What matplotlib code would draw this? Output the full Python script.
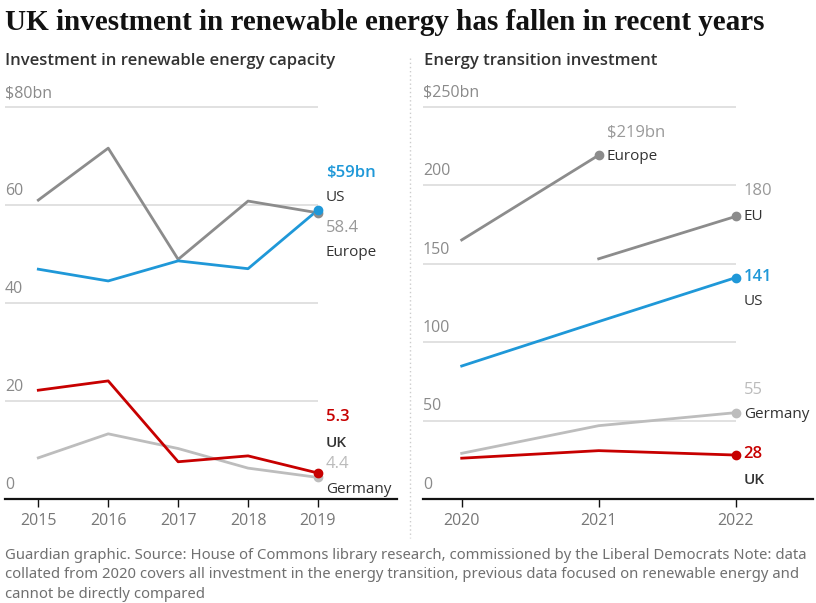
import matplotlib
matplotlib.use("Agg")
import matplotlib.pyplot as plt
from matplotlib.transforms import offset_copy

# ---------------- data ----------------
years_left = [2015, 2016, 2017, 2018, 2019]
us_left = [46.9, 44.5, 48.6, 47.0, 59.0]
europe_left = [61.0, 71.6, 48.9, 60.8, 58.4]
uk_left = [22.2, 24.1, 7.6, 8.8, 5.3]
germany_left = [8.4, 13.3, 10.3, 6.3, 4.4]
yticks_left = [0, 20, 40, 60, 80]
yticklabels_left = ["0", "20", "40", "60", "$80bn"]

years_right = [2020, 2021, 2022]
europe_right_years = [2020, 2021]
europe_right = [165, 219]
eu_right_years = [2021, 2022]
eu_right = [153, 180]
us_right = [84.7, 113.0, 141]
germany_right = [29.1, 46.7, 55]
uk_right = [26.0, 30.8, 28]
yticks_right = [0, 50, 100, 150, 200, 250]
yticklabels_right = ["0", "50", "100", "150", "200", "$250bn"]

title = "UK investment in renewable energy has fallen in recent years"
sub_left = "Investment in renewable energy capacity"
sub_right = "Energy transition investment"
footer = ("Guardian graphic. Source: House of Commons library research, commissioned by the Liberal Democrats Note: data\n"
          "collated from 2020 covers all investment in the energy transition, previous data focused on renewable energy and\n"
          "cannot be directly compared")

# ---------------- style ----------------
BLUE = "#1f98d8"
RED = "#c70000"
DGRAY = "#8c8c8c"
LGRAY = "#bdbdbd"
GRID = "#dcdcdc"
TICK = "#8a8a8a"
DARK = "#333333"
SANS = ["Open Sans", "DejaVu Sans"]

W, H = 816, 603
fig = plt.figure(figsize=(W / 100, H / 100), dpi=100)
fig.patch.set_facecolor("white")


def px_axes(x0, x1, ytop, ybot):
    return fig.add_axes([x0 / W, (H - ybot) / H, (x1 - x0) / W, (ybot - ytop) / H])


def setup(ax, xlim, ylim, years, yticks, ylabels, last_year):
    ax.set_xlim(*xlim)
    ax.set_ylim(*ylim)
    for s in ["left", "right", "top"]:
        ax.spines[s].set_visible(False)
    ax.spines["bottom"].set_color("#121212")
    ax.spines["bottom"].set_linewidth(1.6)
    ax.set_yticks([])
    ax.set_xticks(years)
    ax.set_xticklabels([str(y) for y in years], fontsize=11.5, color="#777777", family=SANS)
    ax.tick_params(axis="x", length=6, width=1, color="#121212", pad=4)
    for v, lab in zip(yticks, ylabels):
        if v > 0:
            ax.hlines(v, xlim[0], last_year, color=GRID, lw=1.2, zorder=1)
        tr = offset_copy(ax.transData, fig=fig, x=0, y=6, units="dots")
        ax.text(xlim[0], v, lab, transform=tr, ha="left", va="bottom",
                fontsize=11.5, color=TICK, family=SANS)
    ax.patch.set_alpha(0)


def label(ax, x, y, s, color, dy, bold=False, dx=8, size=11):
    tr = offset_copy(ax.transData, fig=fig, x=dx, y=dy, units="dots")
    ax.text(x, y, s, transform=tr, ha="left", va="center", fontsize=size,
            color=color, family=SANS, fontweight="semibold" if bold else "normal", clip_on=False)


NUM = 12

# ---------------- left chart ----------------
axL = px_axes(5, 397, 95, 499)
xlimL = (2015 - 33.3 / 69.9, 2019 + 79 / 69.9)
setup(axL, xlimL, (0, (499 - 95) / 4.9), years_left, yticks_left, yticklabels_left, 2019)
lw = 2.0
ms = 6
axL.plot(years_left, europe_left, color=DGRAY, lw=lw, zorder=3)
axL.plot(years_left, germany_left, color=LGRAY, lw=lw, zorder=3)
axL.plot(years_left, uk_left, color=RED, lw=lw, zorder=4)
axL.plot(years_left, us_left, color=BLUE, lw=lw, zorder=4)
axL.plot([2019], [europe_left[-1]], "o", color=DGRAY, ms=ms, zorder=5)
axL.plot([2019], [us_left[-1]], "o", color=BLUE, ms=ms, zorder=6)
axL.plot([2019], [germany_left[-1]], "o", color=LGRAY, ms=ms, zorder=5)
axL.plot([2019], [uk_left[-1]], "o", color=RED, ms=ms, zorder=6)

label(axL, 2019, us_left[-1], "$59bn", BLUE, 37, bold=True, size=NUM)
label(axL, 2019, us_left[-1], "US", DARK, 12)
label(axL, 2019, europe_left[-1], "58.4", "#999999", -15, size=NUM)
label(axL, 2019, europe_left[-1], "Europe", DARK, -40)
label(axL, 2019, uk_left[-1], "5.3", RED, 56, bold=True, size=NUM)
label(axL, 2019, uk_left[-1], "UK", DARK, 30, bold=True)
label(axL, 2019, germany_left[-1], "4.4", "#bbbbbb", 13, size=NUM)
label(axL, 2019, germany_left[-1], "Germany", DARK, -12)

# ---------------- right chart ----------------
axR = px_axes(423, 813, 95, 499)
xlimR = (2020 - 38.7 / 137, 2022 + 77.3 / 137)
setup(axR, xlimR, (0, (499 - 95) / 1.57), years_right, yticks_right, yticklabels_right, 2022)
axR.plot(europe_right_years, europe_right, color=DGRAY, lw=lw, zorder=3)
axR.plot(eu_right_years, eu_right, color=DGRAY, lw=lw, zorder=3)
axR.plot(years_right, germany_right, color=LGRAY, lw=lw, zorder=3)
axR.plot(years_right, uk_right, color=RED, lw=lw, zorder=4)
axR.plot(years_right, us_right, color=BLUE, lw=lw, zorder=4)
axR.plot([2021], [europe_right[-1]], "o", color=DGRAY, ms=ms, zorder=5)
axR.plot([2022], [eu_right[-1]], "o", color=DGRAY, ms=ms, zorder=5)
axR.plot([2022], [us_right[-1]], "o", color=BLUE, ms=ms, zorder=5)
axR.plot([2022], [germany_right[-1]], "o", color=LGRAY, ms=ms, zorder=5)
axR.plot([2022], [uk_right[-1]], "o", color=RED, ms=ms, zorder=5)

label(axR, 2021, europe_right[-1], "$219bn", "#999999", 23, size=NUM)
label(axR, 2021, europe_right[-1], "Europe", DARK, -1)
label(axR, 2022, eu_right[-1], "180", "#999999", 25, size=NUM)
label(axR, 2022, eu_right[-1], "EU", DARK, 0)
label(axR, 2022, us_right[-1], "141", BLUE, 1, bold=True, size=NUM)
label(axR, 2022, us_right[-1], "US", DARK, -24)
label(axR, 2022, germany_right[-1], "55", "#bbbbbb", 23, size=NUM)
label(axR, 2022, germany_right[-1], "Germany", DARK, -2)
label(axR, 2022, uk_right[-1], "28", RED, 1, bold=True, size=NUM)
label(axR, 2022, uk_right[-1], "UK", DARK, -25, bold=True)

# ---------------- texts ----------------
fig.text(5 / W, 1 - 22 / H, title, ha="left", va="center", fontsize=21,
         fontweight="bold", family=["Liberation Serif", "DejaVu Serif"], color="#121212")
fig.text(5 / W, 1 - 61 / H, sub_left, ha="left", va="center", fontsize=12,
         family=SANS, color=DARK, fontweight="semibold")
fig.text(424 / W, 1 - 61 / H, sub_right, ha="left", va="center", fontsize=12,
         family=SANS, color=DARK, fontweight="semibold")
fig.text(5 / W, 1 - 575 / H, footer, ha="left", va="center", fontsize=10.7,
         family=["Liberation Sans Narrow", "Noto Sans", "DejaVu Sans"], color="#707070",
         linespacing=1.38)

# dotted separator
fig.add_artist(plt.Line2D([410 / W, 410 / W], [1 - 58 / H, 1 - 538 / H],
                          transform=fig.transFigure, color="#cccccc", lw=1, ls=(0, (1, 2))))

fig.savefig("out.png", dpi=100, facecolor="white")
